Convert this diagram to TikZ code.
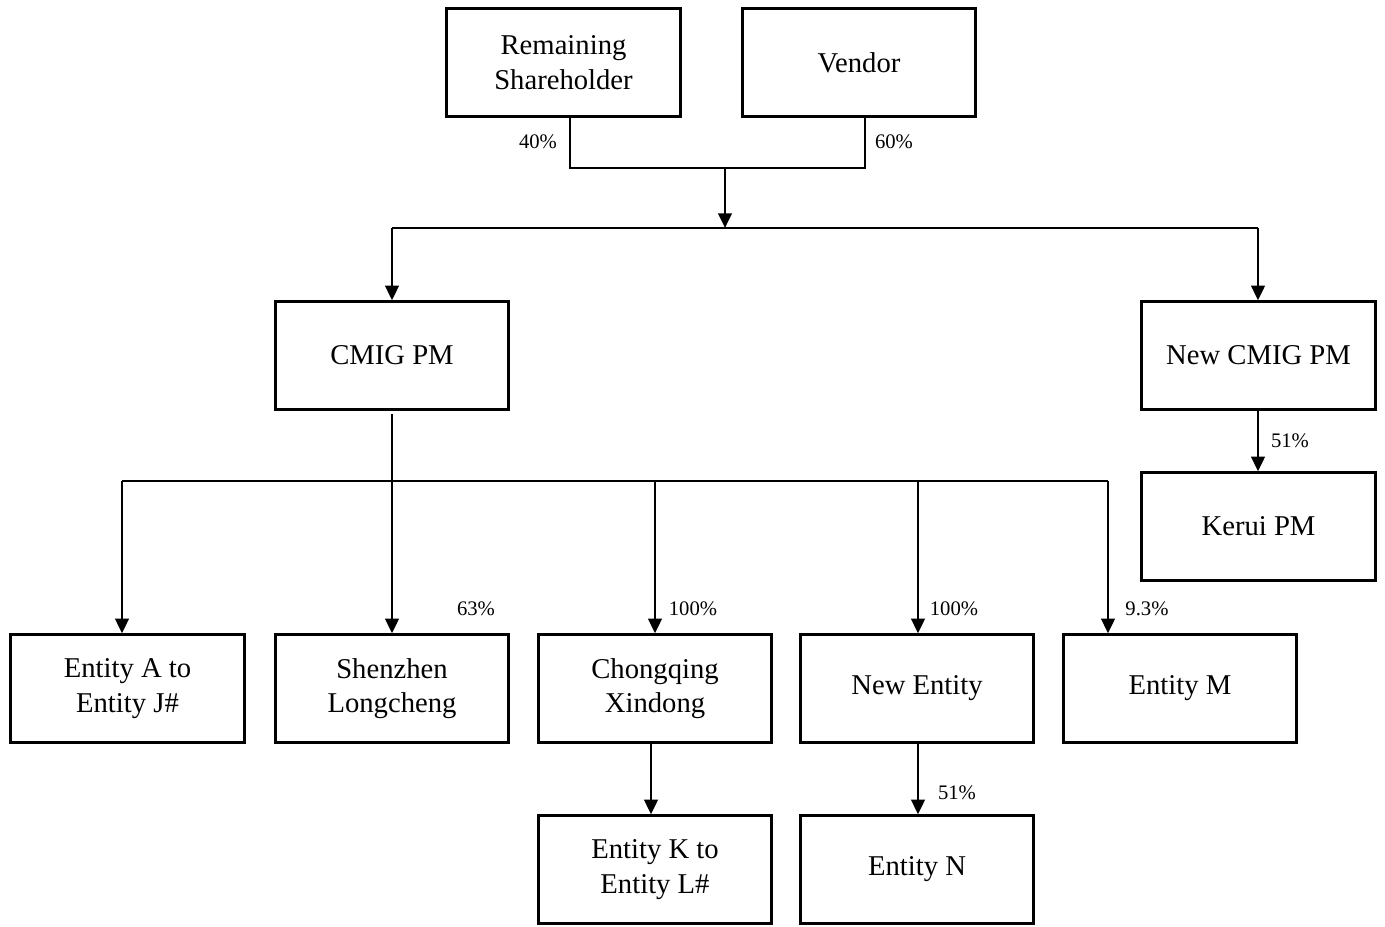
\documentclass[tikz,border=0pt]{standalone}
\usepackage{fontspec}
\setmainfont{Liberation Serif}
\usetikzlibrary{arrows.meta}
\begin{document}
\begin{tikzpicture}[x=0.75pt,y=-0.75pt,
  box/.style={draw,line width=2.2pt,minimum width=175pt,minimum height=80.5pt,align=center,inner sep=0pt,font=\fontsize{21.5pt}{26pt}\selectfont},
  pct/.style={font=\fontsize{15.5pt}{18pt}\selectfont,inner sep=0pt},
  ln/.style={line width=2.2pt},
  arr/.style={line width=2.2pt,-{Triangle[width=10pt,length=11pt]}}]
\useasboundingbox (0,0) rectangle (1385,926);
\node[box] (rs) at (563.5,62.5) {Remaining\\Shareholder};
\node[box] (vd) at (859,62.5) {Vendor};
\node[box] (cmig) at (392,355.5) {CMIG PM};
\node[box] (ncmig) at (1258.5,355.5) {New CMIG PM};
\node[box] (kerui) at (1258.5,526.5) {Kerui PM};
\node[box] (ea) at (127.5,688.5) {Entity A to\\Entity J\#};
\node[box] (sz) at (392,688.5) {Shenzhen\\Longcheng};
\node[box] (cq) at (655,688.5) {Chongqing\\Xindong};
\node[box] (ne) at (917,688.5) {New Entity};
\node[box] (em) at (1180,688.5) {Entity M};
\node[box] (ek) at (655,869.5) {Entity K to\\Entity L\#};
\node[box] (en) at (917,869.5) {Entity N};
% top join
\coordinate (j1) at (570,168);
\coordinate (j2) at (865,168);
\coordinate (jm) at (725,168);
\coordinate (b1) at (725,228);
\coordinate (b1l) at (392,228);
\coordinate (b1r) at (1258,228);
\draw[ln] (rs.south -| j1) -- (j1) -- (j2) -- (vd.south -| j2);
\draw[arr] (jm) -- (b1);
\draw[ln] (b1l) -- (b1r);
\draw[arr] (b1l) -- (cmig.north);
\draw[arr] (b1r) -- (ncmig.north -| b1r);
\draw[arr] (ncmig.south -| b1r) -- (kerui.north -| b1r);
% second bus
\coordinate (c0) at (392,414);
\coordinate (b2l) at (122,481);
\coordinate (b2r) at (1108,481);
\coordinate (b2c) at (655,481);
\coordinate (b2n) at (918,481);
\draw[ln] (b2l) -- (b2r);
\draw[arr] (c0) -- (sz.north);
\draw[arr] (b2l) -- (ea.north -| b2l);
\draw[arr] (b2c) -- (cq.north -| b2c);
\draw[arr] (b2n) -- (ne.north -| b2n);
\draw[arr] (b2r) -- (em.north -| b2r);
\coordinate (k1) at (651,743);
\draw[arr] (cq.south -| k1) -- (ek.north -| k1);
\draw[arr] (ne.south -| b2n) -- (en.north -| b2n);
% labels
\node[pct] (l40) at (538,142) {40\%};
\node[pct] (l60) at (894,142) {60\%};
\node[pct] (l63) at (476,609) {63\%};
\node[pct] (l100a) at (693,609) {100\%};
\node[pct] (l100b) at (954,609) {100\%};
\node[pct] (l93) at (1147,609) {9.3\%};
\node[pct] (l51a) at (1290,441) {51\%};
\node[pct] (l51b) at (957,793) {51\%};
\end{tikzpicture}
\end{document}
